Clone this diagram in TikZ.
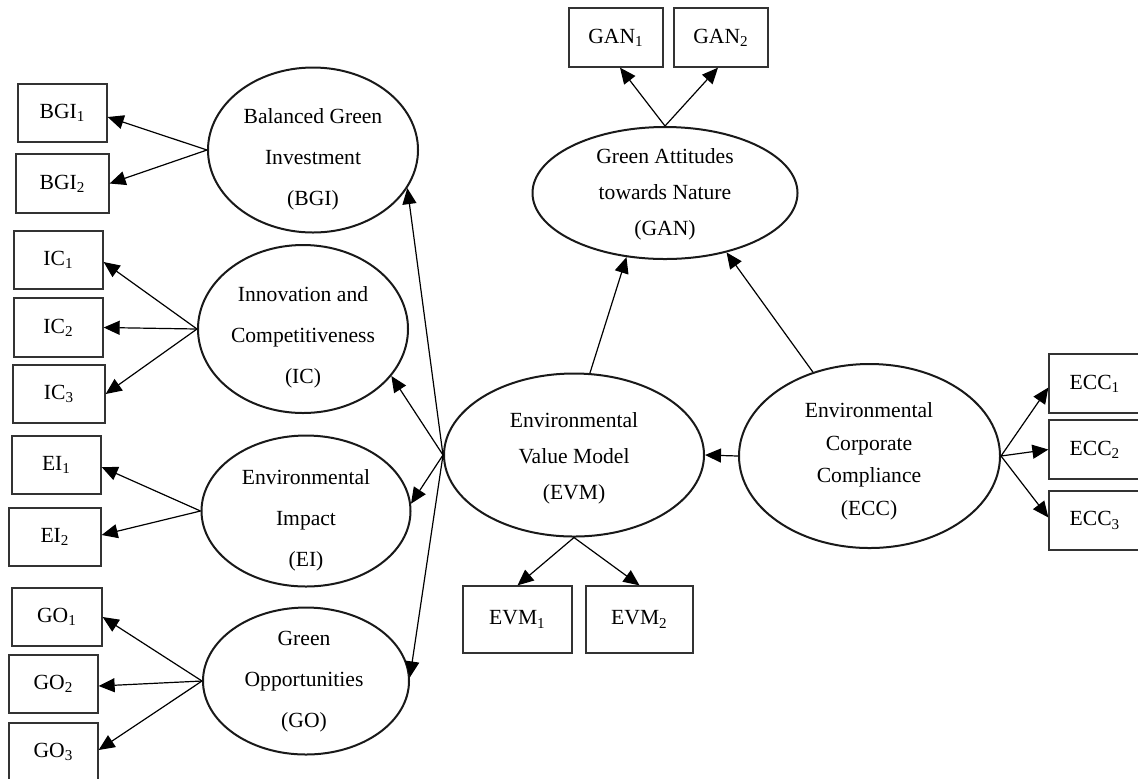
\documentclass[tikz,border=0pt]{standalone}
\usepackage{fontspec}
\setmainfont{Liberation Serif}
\usetikzlibrary{arrows.meta,shapes.geometric}
\tikzset{
  box/.style={draw=black!80, line width=0.65pt, rectangle, inner sep=0pt, font=\fontsize{10.8}{13}\selectfont},
  latent/.style={draw=black!90, line width=1pt, ellipse, inner sep=0pt},
  ltext/.style={align=center, inner sep=0pt, font=\fontsize{10.8}{20.5}\selectfont},
  ltexts/.style={align=center, inner sep=0pt, font=\fontsize{10.8}{18}\selectfont},
  conn/.style={line width=0.6pt, -{Triangle[length=8pt,width=7pt]}}
}
\begin{document}
\begin{tikzpicture}[x=0.5pt, y=-0.5pt]
\useasboundingbox (0,0) rectangle (1138,778);
\clip (0,0) rectangle (1138,778);
% observed boxes
\node[box, minimum width=44.5pt, minimum height=29pt] (BGI1) at (62.5,113) {BGI\textsubscript{1}};
\node[box, minimum width=46.5pt, minimum height=29.5pt] (BGI2) at (62.5,183.5) {BGI\textsubscript{2}};
\node[box, minimum width=44.5pt, minimum height=29pt] (IC1) at (58.5,260) {IC\textsubscript{1}};
\node[box, minimum width=44.5pt, minimum height=29.5pt] (IC2) at (58.5,327.5) {IC\textsubscript{2}};
\node[box, minimum width=46pt, minimum height=29pt] (IC3) at (59,394) {IC\textsubscript{3}};
\node[box, minimum width=44.5pt, minimum height=29pt] (EI1) at (56.5,465) {EI\textsubscript{1}};
\node[box, minimum width=46pt, minimum height=29pt] (EI2) at (55,537) {EI\textsubscript{2}};
\node[box, minimum width=45pt, minimum height=29pt] (GO1) at (57,617) {GO\textsubscript{1}};
\node[box, minimum width=44.5pt, minimum height=29pt] (GO2) at (53.5,684) {GO\textsubscript{2}};
\node[box, minimum width=44.5pt, minimum height=29pt] (GO3) at (53.5,752) {GO\textsubscript{3}};
\node[box, minimum width=47pt, minimum height=29.5pt] (GAN1) at (616,37.5) {GAN\textsubscript{1}};
\node[box, minimum width=47pt, minimum height=29.5pt] (GAN2) at (721,37.5) {GAN\textsubscript{2}};
\node[box, minimum width=54.5pt, minimum height=33.5pt] (EVM1) at (517.5,619.5) {EVM\textsubscript{1}};
\node[box, minimum width=53.5pt, minimum height=33.5pt] (EVM2) at (639.5,619.5) {EVM\textsubscript{2}};
\node[box, minimum width=46pt, minimum height=29.5pt] (ECC1) at (1095,383.5) {ECC\textsubscript{1}};
\node[box, minimum width=46pt, minimum height=29.5pt] (ECC2) at (1095,449.5) {ECC\textsubscript{2}};
\node[box, minimum width=46pt, minimum height=29.5pt] (ECC3) at (1095,520.5) {ECC\textsubscript{3}};
% latent ellipses
\node[latent, minimum width=105pt, minimum height=82.5pt] (BGI) at (313,150) {};
\node[latent, minimum width=105pt, minimum height=84pt] (IC) at (303,329) {};
\node[latent, minimum width=104.5pt, minimum height=75.5pt] (EI) at (306,511) {};
\node[latent, minimum width=103pt, minimum height=73.5pt] (GO) at (306,681) {};
\node[latent, minimum width=132.5pt, minimum height=66pt] (GAN) at (665,193) {};
\node[latent, minimum width=130pt, minimum height=81.5pt] (EVM) at (574,455) {};
\node[latent, minimum width=130.5pt, minimum height=92pt] (ECC) at (869.5,456) {};
% ellipse texts
\node[ltext] (tBGI) at (313,159) {Balanced Green\\Investment\\(BGI)};
\node[ltext] (tIC) at (303,337) {Innovation and\\Competitiveness\\(IC)};
\node[ltext] (tEI) at (306,520) {Environmental\\Impact\\(EI)};
\node[ltext] (tGO) at (304,682) {Green\\Opportunities\\(GO)};
\node[ltexts] (tGAN) at (665,194) {Green Attitudes\\towards Nature\\(GAN)};
\node[ltexts] (tEVM) at (574,458) {Environmental\\Value Model\\(EVM)};
\node[align=center, inner sep=0pt, font=\fontsize{10.8}{16.25}\selectfont] (tECC) at (869,461.5) {Environmental\\Corporate\\Compliance\\(ECC)};
% loadings
\draw[conn] (BGI.west) -- ([yshift=-2pt]BGI1.east);
\draw[conn] (BGI.west) -- (BGI2.east);
\draw[conn] (IC.west) -- ([yshift=-1pt]IC1.east);
\draw[conn] (IC.west) -- (IC2.east);
\draw[conn] (IC.west) -- (IC3.east);
\draw[conn] (EI.west) -- ([yshift=-1pt]EI1.east);
\draw[conn] (EI.west) -- ([yshift=1pt]EI2.east);
\draw[conn] (GO.west) -- (GO1.east);
\draw[conn] (GO.west) -- ([yshift=-1pt]GO2.east);
\draw[conn] (GO.west) -- ([yshift=1pt]GO3.east);
\draw[conn] (GAN.north) -- ([xshift=2pt]GAN1.south);
\draw[conn] (GAN.north) -- ([xshift=-1.5pt]GAN2.south);
\draw[conn] (EVM.south) -- (EVM1.north);
\draw[conn] (EVM.south) -- (EVM2.north);
\draw[conn] (ECC.east) -- ([yshift=-2pt]ECC1.west);
\draw[conn] (ECC.east) -- (ECC2.west);
\draw[conn] (ECC.east) -- ([yshift=1.5pt]ECC3.west);
% structural paths
\draw[conn] (EVM.west) -- (BGI.-22);
\draw[conn] (EVM.west) -- (IC.-28);
\draw[conn] (EVM.west) -- (EI.4);
\draw[conn] (EVM.west) -- (GO.2);
\draw[conn] (EVM.79) -- (GAN.-121);
\draw[conn] (ECC.124) -- (GAN.-44);
\draw[conn] (ECC.west) -- (EVM.east);
\end{tikzpicture}
\end{document}
